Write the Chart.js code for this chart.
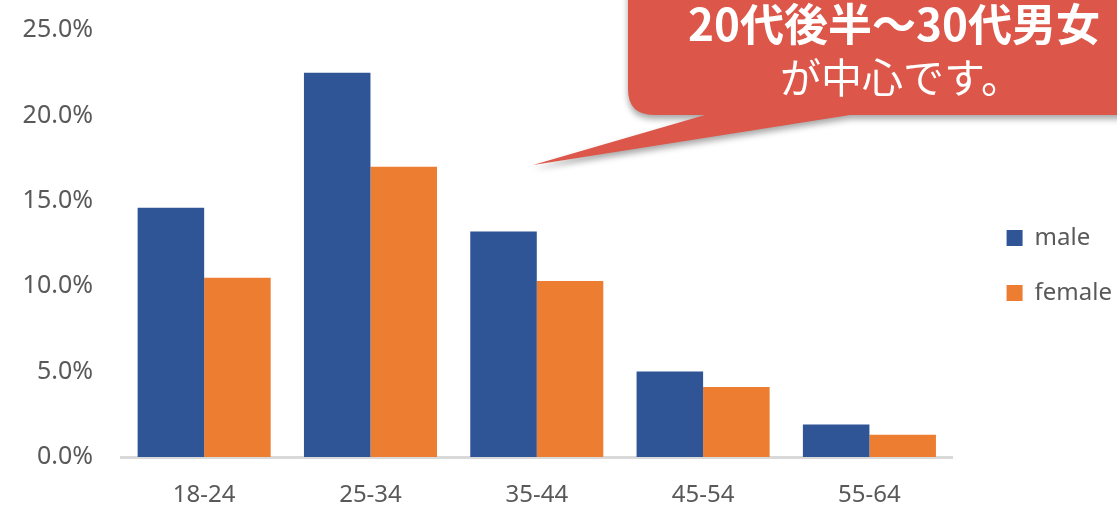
<!DOCTYPE html>
<html>
<head>
<meta charset="utf-8">
<script src="https://cdn.jsdelivr.net/npm/chart.js@4/dist/chart.umd.min.js"></script>
<style>
  html, body { margin: 0; padding: 0; background: #fff; }
  #wrap { width: 1117px; height: 507px; }
</style>
</head>
<body>
<div id="wrap"><canvas id="myChart" width="1117" height="507"></canvas></div>
<script>
var ageGroups = ["18-24", "25-34", "35-44", "45-54", "55-64"];
var maleShare = [14.6, 22.5, 13.2, 5.0, 1.9];
var femaleShare = [10.5, 17.0, 10.3, 4.1, 1.3];
var yTicks = [0, 5, 10, 15, 20, 25];
var calloutLine1 = "20代後半〜30代男女";
var calloutLine2 = "が中心です。";

// speech bubble drawn on top of the chart
var callout = {
    id: 'callout',
    afterLayout: function (chart) {
        // nudge the legend a bit away from the plot
        var lg = chart.legend;
        if (lg) {
            lg.left += 23;
            lg.right += 23;
            lg.maxWidth += 23;
            lg.top -= 3;
            lg.bottom -= 3;
        }
    },
    afterDraw: function (chart) {
        var c = chart.ctx;
        c.save();
        c.shadowColor = "rgba(0,0,0,0.35)";
        c.shadowBlur = 6;
        c.shadowOffsetY = 4;
        c.fillStyle = "#DC5649";
        c.beginPath();
        var l = 628, t = -30, r = 1140, b = 115, rad = 26;
        c.moveTo(l + rad, t);
        c.lineTo(r, t);
        c.lineTo(r, b);
        c.lineTo(850, b);
        c.lineTo(533, 165);
        c.lineTo(705, b);
        c.lineTo(l + rad, b);
        c.quadraticCurveTo(l, b, l, b - rad);
        c.lineTo(l, t);
        c.closePath();
        c.fill();
        c.restore();

        c.save();
        c.fillStyle = "#fff";
        c.textAlign = "center";
        c.textBaseline = "middle";
        c.font = "bold 44px 'Noto Sans CJK JP', 'Noto Sans'";
        c.fillText(calloutLine1, 894, 24);
        c.font = "41px 'Noto Sans CJK JP', 'Noto Sans'";
        c.fillText(calloutLine2, 901, 77);
        c.restore();
    }
};

var ctx = document.getElementById("myChart").getContext('2d');
var myChart = new Chart(ctx, {
    type: 'bar',
    data: {
        labels: ageGroups,
        datasets: [
            {
                label: "male",
                data: maleShare,
                backgroundColor: "#2F5597",
                borderWidth: 0
            },
            {
                label: "female",
                data: femaleShare,
                backgroundColor: "#ED7D31",
                borderWidth: 0
            }
        ]
    },
    options: {
        responsive: false,
        animation: false,
        layout: { padding: { top: 30, right: 18, left: 4, bottom: 0 } },
        datasets: { bar: { categoryPercentage: 0.8, barPercentage: 1.0 } },
        plugins: {
            tooltip: { enabled: false },
            legend: {
                position: 'right',
                labels: {
                    color: "#595959",
                    font: { family: "'Noto Sans'", size: 24 },
                    boxWidth: 16,
                    boxHeight: 16,
                    padding: 31
                }
            }
        },
        scales: {
            x: {
                grid: { display: false },
                border: { color: "#d9d9d9", width: 3 },
                afterFit: function (axis) { axis.height = 50; },
                ticks: {
                    color: "#595959",
                    font: { family: "'Noto Sans'", size: 24 },
                    padding: 16
                }
            },
            y: {
                min: 0,
                max: 25,
                grid: { display: false },
                border: { display: false },
                afterBuildTicks: function (axis) {
                    axis.ticks = yTicks.map(function (v) { return { value: v }; });
                },
                afterFit: function (axis) {
                    axis.width = 117;
                    axis.paddingTop = 0;
                },
                ticks: {
                    color: "#595959",
                    font: { family: "'Noto Sans'", size: 25 },
                    padding: 20,
                    callback: function (v) { return v.toFixed(1) + "%"; }
                }
            }
        }
    },
    plugins: [callout]
});
</script>
</body>
</html>
